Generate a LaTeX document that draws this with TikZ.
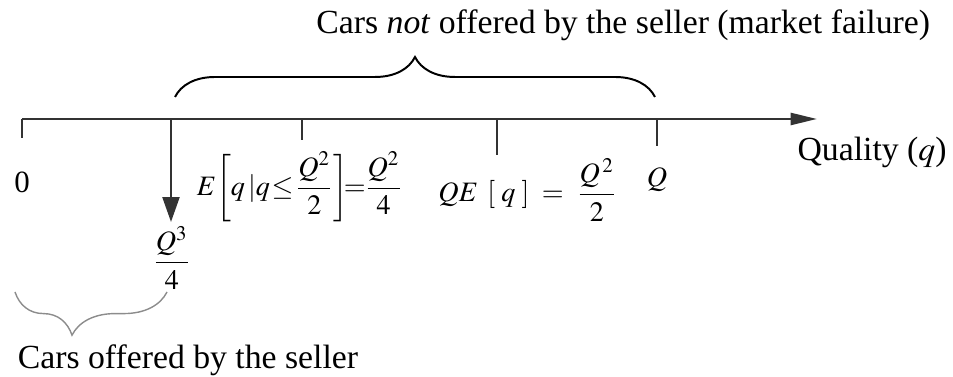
\documentclass[tikz,border=0pt]{standalone}
\usepackage{amsmath}
\usepackage{mathptmx}
\usepackage{fontspec}
\setmainfont{Liberation Serif}
\usetikzlibrary{arrows.meta,decorations.pathreplacing}

\tikzset{
  axisline/.style={line width=0.9pt, draw=black!80},
  tickmark/.style={line width=0.9pt, draw=black!80},
  bracemark/.style={decorate, decoration={brace, amplitude=#1}, line width=0.7pt},
  mathlabel/.style={font=\fontsize{10}{12}\selectfont, inner sep=0pt},
  textlabel/.style={font=\fontsize{12}{14}\selectfont, inner sep=0pt}
}

\begin{document}
\begin{tikzpicture}
  \useasboundingbox (0,0) rectangle (11.9125,4.7125);
  % quality axis
  \coordinate (qzero) at (0.275,3.225);
  \coordinate (qend) at (10.2125,3.225);
  \draw[axisline, -{Triangle[length=0.33cm, width=0.15cm]}] (qzero) -- (qend);
  \foreach \x/\len/\nm in {0.275/0.2375/tzero, 3.775/0.2625/tcond, 6.2125/0.45/tmean, 8.2125/0.3375/tmax}
    \draw[tickmark] (\x,3.225) coordinate (\nm) -- ++(0,-\len);
  % threshold
  \coordinate (thrtop) at (2.1375,3.225);
  \coordinate (thrend) at (2.1375,1.9375);
  \draw[axisline, -{Triangle[length=0.31cm, width=0.21cm]}] (thrtop) -- (thrend);
  % labels
  \node[mathlabel, font=\fontsize{11}{13}\selectfont] (zero) at (0.275,2.4375) {0};
  \node[mathlabel] (thr) at (2.15,1.4875) {$\dfrac{Q^3}{4}$};
  \node[mathlabel] (econd) at (3.75,2.375)
    {\medmuskip=1mu\thickmuskip=1mu$E\!\left[q\,|q\le\dfrac{Q^2}{2}\right]\!\!=\!\dfrac{Q^2}{4}$};
  \node[mathlabel] (emean) at (6.6,2.3375) {$QE\;\,[\;q\;]\;=\;\dfrac{Q^{\,2}}{2}$};
  \node[mathlabel] (qmax) at (8.2125,2.4625) {$Q$};
  \node[textlabel, anchor=west] (quality) at (9.9625,2.8125) {Quality ($q$)};
  % braces
  \coordinate (nleft) at (2.1875,3.5);
  \coordinate (nright) at (8.1875,3.5);
  \draw[bracemark=0.5cm] (nleft) -- (nright);
  \node[textlabel] (notoffered) at (7.79,4.4) {Cars \textit{not} offered by the seller (market failure)};
  \coordinate (oleft) at (0.1875,1.0625);
  \coordinate (oright) at (2.0875,1.0625);
  \draw[bracemark=0.54cm, draw=black!45, line width=0.5pt, decoration={mirror, aspect=0.375}] (oleft) -- (oright);
  \node[textlabel] (offered) at (2.35,0.2125) {Cars offered by the seller};
\end{tikzpicture}
\end{document}
